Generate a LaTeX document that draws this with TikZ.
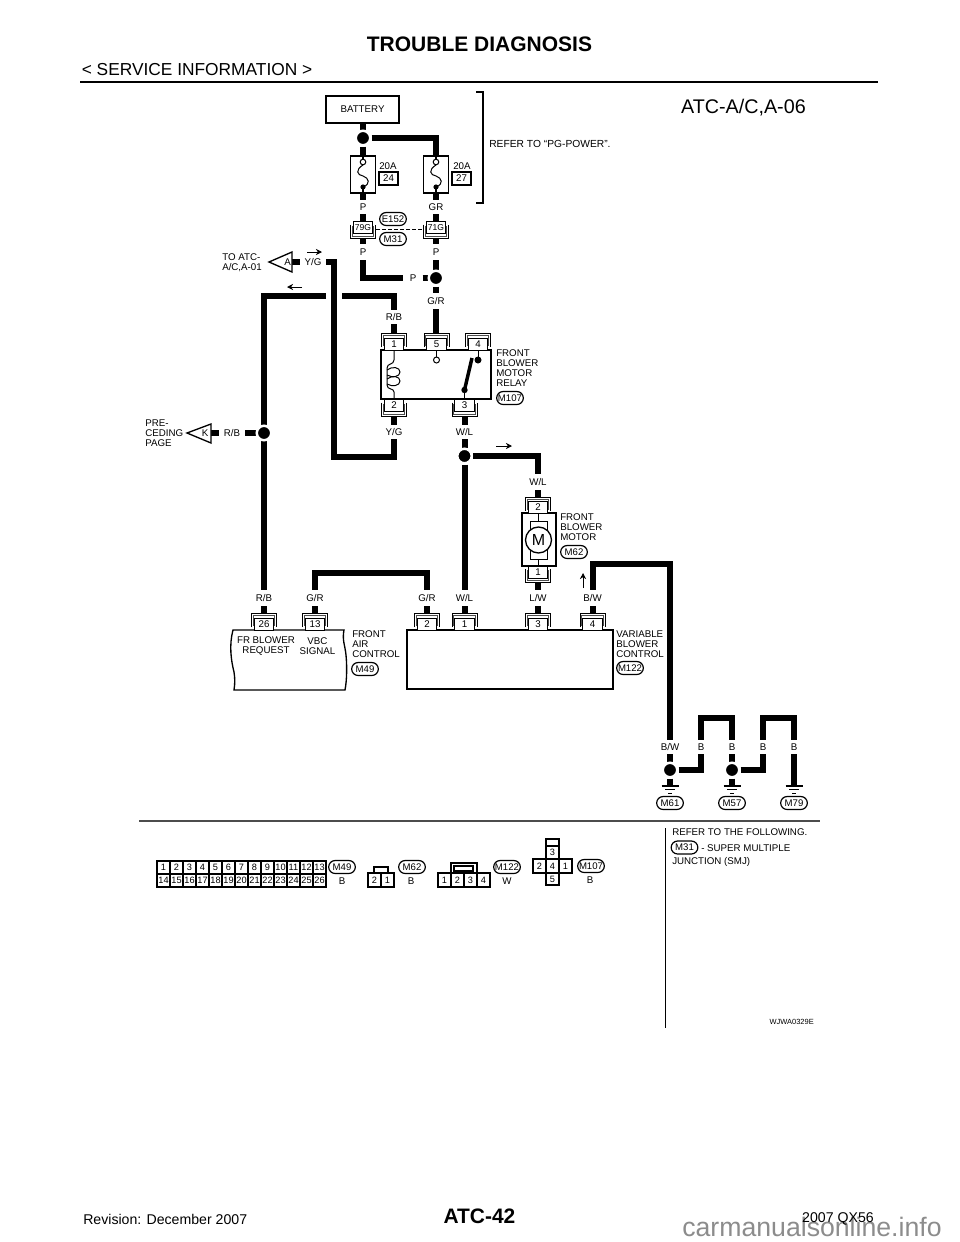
\documentclass[tikz,border=0pt]{standalone}
\usepackage{fontspec}
\setmainfont{Liberation Sans}
\usetikzlibrary{arrows.meta,shapes.misc}
\pgfdeclarelayer{bg}
\pgfsetlayers{bg,main}
\newcommand\tf{\fontsize{7.3}{7.5}\selectfont}
\tikzset{
  x=0.75pt,y=-0.75pt,
  wire/.style={line width=4.5pt,line join=miter},
  lab/.style={fill=white,inner xsep=3.2pt,inner ysep=0pt,minimum height=10.5pt,font=\tf},
  txt/.style={inner sep=0pt,font=\tf,align=left,anchor=west},
  pinb/.style={draw,fill=white,line width=.75pt,minimum width=14.5pt,minimum height=9pt,inner sep=0pt,font=\tf},
  brk/.style={line width=.75pt},
  brkb/.style={line width=.5pt,black!70},
  box/.style={draw,fill=white,line width=1pt,inner sep=0pt},
  tag/.style={draw,fill=white,rounded rectangle,line width=.9pt,inner sep=0pt,minimum width=20pt,minimum height=9.75pt,font=\fontsize{7.2}{7.5}\selectfont},
  junc/.style={circle,fill=black,draw=white,line width=1.875pt,minimum size=10.875pt,inner sep=0pt},
  thin/.style={line width=.75pt},
  dirn/.style={-{Stealth[length=4.6pt,width=4.6pt]},line width=.7pt},
  gnd/.style={line width=.85pt},
  cell/.style={inner sep=0pt,font=\fontsize{6.9}{7}\selectfont},
}
% name, x, y, text, direction of the wire side (-1 above, 1 below)
\newcommand\pinbox[5]{%
  \node[pinb] (#1) at (#2,#3) {#4};
  \coordinate (#1-w) at ({#2},{#3+(#5)*10.5});
  \draw[brk] ({#2-12.5},{#3-(#5)*3}) -- ({#2-12.5},{#3+(#5)*10.5}) -- ({#2+12.5},{#3+(#5)*10.5}) -- ({#2+12.5},{#3-(#5)*3});
  \draw[brkb] ({#2-10.7},{#3-(#5)*2}) -- ({#2-10.7},{#3+(#5)*8.5}) -- ({#2+10.7},{#3+(#5)*8.5}) -- ({#2+10.7},{#3-(#5)*2});
}
\newcommand\earth[4]{% name, x, y of ground top, tag text
  \coordinate (#1) at (#2,#3);
  \draw[gnd] ({#2-8.5},#3) -- ({#2+8.5},#3);
  \draw[gnd] ({#2-5},{#3+3.7}) -- ({#2+5},{#3+3.7});
  \draw[gnd] ({#2-2},{#3+7.4}) -- ({#2+2},{#3+7.4});
  \node[tag] (#1t) at (#2,803) {#4};
}
\newcommand\fusegl[2]{% x, name
  \node[box,minimum width=18.75pt,minimum height=27.75pt] (#2) at (#1,174.5) {};
  \draw[line width=1.4pt] (#1,156) -- (#1,159);
  \draw[thin] (#1,165) .. controls ({#1-8},170) and ({#1-6},175) .. (#1,176) .. controls ({#1+6},178) and ({#1+8},184) .. (#1,187);
  \draw[line width=1.4pt] (#1,187) -- (#1,193);
  \draw[thin,fill=white] (#1,162) circle (2.8);
  \fill (#1,187) circle (2.6);
}
\begin{document}
\begin{tikzpicture}
\useasboundingbox (0,0) rectangle (960,1242);
% page furniture
\node[inner sep=0pt,font=\fontsize{15.75}{16}\selectfont\bfseries] (title) at (479.5,44) {TROUBLE DIAGNOSIS};
\node[inner sep=0pt,anchor=west,font=\fontsize{13}{14}\selectfont] (sinfo) at (81.5,70) {< SERVICE INFORMATION >};
\coordinate (hl) at (80,82); \coordinate (hr) at (878,82);
\draw[line width=2.2pt] (hl) -- (hr);
\node[inner sep=0pt,anchor=east,font=\fontsize{14.8}{16}\selectfont] (code) at (806,108) {ATC-A/C,A-06};
\node[inner sep=0pt,anchor=west,font=\fontsize{10.6}{12}\selectfont] (rev) at (83,1219) {Revision: December 2007};
\node[inner sep=0pt,font=\fontsize{15.7}{16}\selectfont\bfseries] (page) at (479.5,1216) {ATC-42};
\node[inner sep=0pt,anchor=west,font=\fontsize{20}{22}\selectfont,text=black!45] (wm) at (682,1227) {carmanualsonline.info};
\node[inner sep=0pt,anchor=east,font=\fontsize{10.6}{12}\selectfont] (model) at (874,1219) {2007 QX56};

% battery and fuses
\node[box,minimum width=54.75pt,minimum height=20.25pt,font=\tf] (bat) at (362.5,109.5) {BATTERY};
\node[junc] (j1) at (363,138) {};
\fusegl{363}{f1}
\fusegl{436}{f2}
\node[inner sep=0pt,anchor=west,font=\tf] (a1) at (379,166) {20A};
\node[inner sep=0pt,anchor=west,font=\tf] (a2) at (453,166) {20A};
\node[box,minimum width=14.25pt,minimum height=9.75pt,font=\tf] (n24) at (388.5,178.5) {24};
\node[box,minimum width=14.25pt,minimum height=9.75pt,font=\tf] (n27) at (461.5,178.5) {27};
\coordinate (bt) at (483,92); \coordinate (bb) at (483,203);
\draw[line width=.9pt] (476,92) -- (bt) -- (bb) -- (476,203);
\node[txt,font=\fontsize{7.7}{8}\selectfont] (refpg) at (489,144) {REFER TO “PG-POWER”.};
\node[lab] (lp1) at (363,207) {P};
\node[lab] (lgr) at (436,207) {GR};
\pinbox{c79}{363}{227.5}{\fontsize{6.4}{7}\selectfont 79G}{1}
\pinbox{c71}{436}{227.5}{\fontsize{6.4}{7}\selectfont 71G}{1}
\coordinate (dL) at (376,229); \coordinate (dR) at (423,229);
\draw[thin,dash pattern=on 3pt off 1.5pt] (dL) -- (dR);
\node[tag] (e152) at (393,219) {E152};
\node[tag] (m31) at (393,239) {M31};
\node[lab,minimum height=12pt] (lp2) at (363,252) {P};
\node[lab,minimum height=12pt] (lp3) at (436,252) {P};
\node[lab,minimum height=6pt,inner xsep=4.5pt] (lp4) at (413,278) {P};
\node[junc] (j2) at (436,278) {};
\node[lab,minimum height=12pt] (lgr2) at (436,301) {G/R};

% relay
\node[box,minimum width=82.5pt,minimum height=36.75pt] (relay) at (436,374.5) {};
\pinbox{r1}{394}{344}{1}{-1}
\pinbox{r5}{436.5}{344}{5}{-1}
\pinbox{r4}{478}{344}{4}{-1}
\pinbox{r2}{394}{405.5}{2}{1}
\pinbox{r3}{464.5}{405.5}{3}{1}
\draw[thin] (394,350) -- (394,360) .. controls (394,365) and (387,363) .. (387,368)
   .. controls (387,374) and (387,380) .. (387,385) .. controls (387,390) and (394,388) .. (394,392) -- (394,399);
\draw[thin] (387,370) .. controls (392,366) and (400,367) .. (400,372) .. controls (400,377) and (392,378) .. (387,375);
\draw[thin] (387,379) .. controls (392,375) and (400,376) .. (400,381) .. controls (400,386) and (392,387) .. (387,384);
\draw[thin] (436.5,350) -- (436.5,357);
\draw[thin,fill=white] (436.5,360) circle (3);
\draw[thin] (478,350) -- (478,360);
\fill (478,360) circle (3.5);
\draw[line width=2.6pt] (472,358) -- (464.5,390);
\fill (464.5,390) circle (3.2);
\draw[thin] (464.5,390) -- (464.5,399);
\node[txt] (trelay) at (496,368) {FRONT\\BLOWER\\MOTOR\\RELAY};
\node[tag] (m107) at (510,398) {M107};
\node[lab,minimum height=10pt] (lrb1) at (394,317) {R/B};
\node[lab] (lyg) at (394,432) {Y/G};
\node[lab] (lwl) at (464.5,432) {W/L};
\node[junc] (j3) at (464.5,456) {};

% left connectors
\draw[line width=1pt,fill=white] (233,630) .. controls (229,645) and (231,660) .. (234,672) .. controls (235,678) and (235,684) .. (234,690) -- (345,690) .. controls (347,680) and (347,665) .. (346,655) .. controls (345,645) and (342,640) .. (344,630) -- cycle;
\pinbox{p26}{264}{624}{26}{-1}
\pinbox{p13}{315}{624}{13}{-1}
\node[inner sep=0pt,align=center,font=\tf] (treq) at (266,646) {FR BLOWER\\REQUEST};
\node[inner sep=0pt,align=center,font=\tf] (tvbc) at (317.5,646) {VBC\\SIGNAL};
\node[txt] (tfac) at (352,644) {FRONT\\AIR\\CONTROL};
\node[tag] (m49) at (365,669) {M49};
% variable blower control
\node[box,minimum width=154.5pt,minimum height=44.25pt] (vbc) at (510,659.5) {};
\pinbox{v2}{427}{624}{2}{-1}
\pinbox{v1}{464.5}{624}{1}{-1}
\pinbox{v3}{538}{624}{3}{-1}
\pinbox{v4}{592.5}{624}{4}{-1}
\node[txt] (tvar) at (616,644) {VARIABLE\\BLOWER\\CONTROL};
\node[tag] (m122) at (630,668) {M122};
\node[lab,minimum height=11.5pt] (l26) at (264,598) {R/B};
\node[lab,minimum height=11.5pt] (l13) at (315,598) {G/R};
\node[lab,minimum height=11.5pt] (l2) at (427,598) {G/R};
\node[lab,minimum height=11.5pt] (l1) at (464.5,598) {W/L};
\node[lab,minimum height=11.5pt] (l3) at (538,598) {L/W};
\node[lab,minimum height=11.5pt] (l4) at (592.5,598) {B/W};

% motor
\node[box,minimum width=25.5pt,minimum height=39.75pt] (mot) at (539,539.5) {};
\pinbox{m2}{538}{507.5}{2}{-1}
\pinbox{m1}{538}{572}{1}{1}
\draw[thin] (538,513) -- (538,566);
\node[draw,fill=white,thin,minimum width=12.75pt,minimum height=28.5pt,inner sep=0pt] (mrect) at (538.5,540) {};
\node[circle,draw,fill=white,line width=1pt,minimum size=19.5pt,inner sep=0pt,font=\fontsize{12}{12}\selectfont] (mc) at (538.5,540) {M};
\node[txt] (tmot) at (560,527) {FRONT\\BLOWER\\MOTOR};
\node[tag] (m62) at (574,552) {M62};
\node[lab,minimum height=12pt] (lwl2) at (538,482) {W/L};

% Y/G and R/B left side
\draw[line width=1pt,fill=white] (269,262) -- (292,252) -- (292,272) -- cycle;
\coordinate (tAb) at (292,262);
\node[inner sep=0pt,font=\tf] (tA) at (287.5,262) {A};
\node[inner sep=0pt,align=left,anchor=west,font=\tf] (tato) at (222,263) {TO ATC-\\A/C,A-01};
\node[lab,inner xsep=3.75pt] (lyg2) at (313,262) {Y/G};
\draw[line width=1pt,fill=white] (187,433) -- (211,424) -- (211,443) -- cycle;
\coordinate (tKb) at (211,433);
\node[inner sep=0pt,font=\tf] (tK) at (205,433) {K};
\node[inner sep=0pt,align=left,anchor=west,font=\tf] (tpre) at (145,433.5) {PRE-\\CEDING\\PAGE};
\node[lab,inner xsep=3.75pt] (lrb2) at (232,433) {R/B};
\node[junc] (j4) at (264,433) {};
\coordinate (rbL) at (326,296); \coordinate (rbR) at (342,296);

% ground row
\node[lab,minimum height=10pt] (lbw) at (670,747) {B/W};
\node[lab,minimum height=10pt] (lb1) at (701,747) {B};
\node[lab,minimum height=10pt] (lb2) at (732,747) {B};
\node[lab,minimum height=10pt] (lb3) at (763,747) {B};
\node[lab,minimum height=10pt] (lb4) at (794,747) {B};
\node[junc] (j5) at (670,770) {};
\node[junc] (j6) at (732,770) {};
\earth{g1}{670}{786}{M61}
\earth{g2}{732}{786}{M57}
\earth{g3}{794}{786}{M79}

% wires
\begin{pgfonlayer}{bg}
\draw[wire] (bat.south -| j1) -- (j1);
\draw[wire] (j1) -- (f1.north -| j1);
\draw[wire] (j1) -| (f2.north);
\draw[wire] (f1.south -| j1) -- (c79.north -| j1);
\draw[wire] (f2.south) -- (c71.north);
\draw[wire] (c79-w) -- (363,278) -- (lp4) -- (j2);
\draw[wire] (c71-w) -- (j2);
\draw[wire] (j2) -- (j2 |- r5-w);
\draw[wire] (rbL) -- (264,296) -- (p26-w);
\draw[wire] (rbR) -| (r1-w);
\draw[wire] (tAb) -- (334,262) -- (334,457) -- (394,457) -- (r2-w);
\draw[wire] (tKb) -- (j4);
\draw[wire] (r3-w) -- (j3);
\draw[wire] (j3) -- (v1-w);
\draw[wire] (j3) -| (m2-w);
\draw[wire] (m1-w) -- (v3-w);
\draw[wire] (p13-w) |- (427,573) -- (v2-w);
\draw[wire] (v4-w) |- (670,564) -- (j5);
\draw[wire] (j5) -- (g1);
\draw[wire] (j5) -- (701,770) -- (701,718) -- (732,718) -- (j6);
\draw[wire] (j6) -- (g2);
\draw[wire] (j6) -- (763,770) -- (763,718) -- (794,718) -- (g3);
\end{pgfonlayer}

% direction marks
\coordinate (d1a) at (307,252); \coordinate (d1b) at (322,252);
\coordinate (d2a) at (302,287); \coordinate (d2b) at (287,287);
\coordinate (d3a) at (496,446); \coordinate (d3b) at (512,446);
\coordinate (d4a) at (583,588); \coordinate (d4b) at (583,573);
\draw[dirn] (d1a) -- (d1b);
\draw[dirn] (d2a) -- (d2b);
\draw[dirn] (d3a) -- (d3b);
\draw[dirn] (d4a) -- (d4b);

% lower section
\coordinate (sl) at (139,821); \coordinate (sr) at (820,821);
\draw[line width=1.4pt,black!70] (sl) -- (sr);
\coordinate (vt) at (665.5,828); \coordinate (vb) at (665.5,1028);
\draw[line width=.9pt] (vt) -- (vb);
\node[txt] (rf) at (672,832.5) {REFER TO THE FOLLOWING.};
\node[tag] (m31b) at (684.5,847.5) {M31};
\node[txt] (sj) at (701,848) {- SUPER MULTIPLE};
\node[txt] (sj2) at (672,861.5) {JUNCTION (SMJ)};
\node[inner sep=0pt,anchor=east,font=\fontsize{5.6}{6}\selectfont] (wj) at (814,1022) {WJWA0329E};

% connector face M49
\foreach \i in {1,...,13}{
  \pgfmathsetmacro\cx{157+13*(\i-1)+6.5}
  \pgfmathtruncatemacro\j{\i+13}
  \node[cell] (ga\i) at (\cx,867.5) {\i};
  \node[cell] (gb\i) at (\cx,880.5) {\j};
}
\draw[line width=1pt] (157,861) rectangle (326,887);
\draw[line width=.85pt] (157,874) -- (326,874);
\foreach \i in {1,...,12}{\draw[line width=.85pt] ({157+13*\i},861) -- ({157+13*\i},887);}
\node[tag] (q49) at (342,867) {M49};
\node[cell,font=\tf] (q49c) at (342,881) {B};
% M62
\draw[line width=.9pt] (374,873) -- (374,867) -- (388,867) -- (388,873);
\draw[line width=1pt] (368,873) rectangle (394,887);
\draw[line width=.85pt] (381,873) -- (381,887);
\node[cell] (h2) at (374.5,880) {2};
\node[cell] (h1) at (387.5,880) {1};
\node[tag] (q62) at (412,867) {M62};
\node[cell,font=\tf] (q62c) at (411,881) {B};
% M122
\draw[line width=.9pt] (451,873) -- (451,863) -- (477,863) -- (477,873);
\draw[line width=.85pt] (454,866) rectangle (473,871);
\draw[line width=1pt] (438,873) rectangle (490,887);
\foreach \i in {1,2,3}{\draw[line width=.85pt] ({438+13*\i},873) -- ({438+13*\i},887);}
\foreach \i in {1,2,3,4}{\node[cell] (k\i) at ({431.5+13*\i},880) {\i};}
\node[tag] (q122) at (507,867) {M122};
\node[cell,font=\tf] (q122c) at (507,881) {W};
% M107
\draw[line width=1pt] (546,859) -- (546,839) -- (559,839) -- (559,859);
\draw[line width=.85pt] (546,846) -- (559,846);
\draw[line width=1pt] (533,859) rectangle (572,873);
\draw[line width=.85pt] (546,859) -- (546,873) (559,859) -- (559,873);
\draw[line width=1pt] (546,873) -- (546,885) -- (559,885) -- (559,873);
\node[cell] (s3) at (552.5,852.5) {3};
\node[cell] (s2) at (539.5,866) {2};
\node[cell] (s4) at (552.5,866) {4};
\node[cell] (s1) at (565.5,866) {1};
\node[cell] (s5) at (552.5,879) {5};
\node[tag] (q107) at (591,866) {M107};
\node[cell,font=\tf] (q107c) at (590,880) {B};
\end{tikzpicture}
\end{document}
